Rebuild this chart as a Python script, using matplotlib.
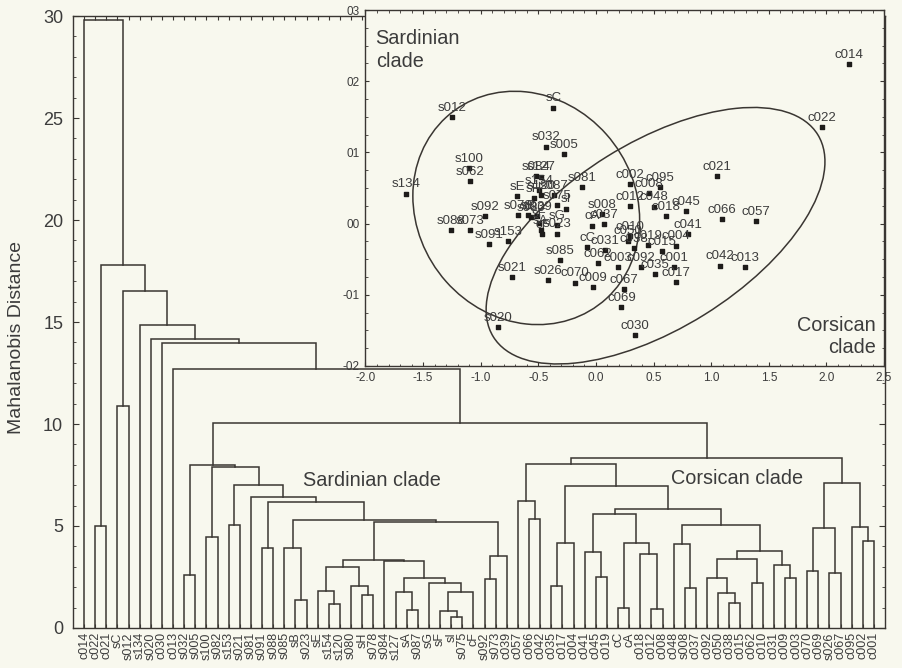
import matplotlib.pyplot as plt
from matplotlib.patches import Ellipse
from matplotlib.transforms import Affine2D
from matplotlib.ticker import MultipleLocator, FixedLocator, FixedFormatter

plt.rcParams['font.family'] = ['Liberation Sans', 'DejaVu Sans']

BG = '#f8f8ee'
INK = '#3a3632'
TXT = '#3c3c3c'

# leaf order of the dendrogram (left to right)
leaf_labels = [
    'c014', 'c022', 'c021', 'sC', 's012', 's134', 's020', 'c030', 'c013',
    's032', 's005', 's100', 's082', 's153', 's021', 's081', 's091', 's088',
    's085', 'sB', 's023', 'sE', 's154', 's120', 's080', 'sH', 's078', 's084',
    's127', 'sA', 's087', 'sG', 'sF', 'sI', 's075', 'cF', 's092', 's073',
    'c039', 'c057', 'c066', 'c042', 'c035', 'c017', 'c004', 'c041', 'c045',
    'c019', 'cC', 'cA', 'c018', 'c012', 'c008', 'c048', 's008', 'c037',
    'c092', 'c050', 'c038', 'c015', 'c062', 'c010', 'c031', 'c009', 'c003',
    'c070', 'c069', 's026', 'c067', 'c095', 'c002', 'c001',
]

# merges: (left, right, distance); ints point back to an earlier merge
merges = [
    ('c022', 'c021', 5.0),     # 0
    ('sC', 's012', 10.88),     # 1
    ('s032', 's005', 2.6),     # 2
    ('s100', 's082', 4.44),    # 3
    ('s153', 's021', 5.05),    # 4
    ('s091', 's088', 3.9),     # 5
    ('sB', 's023', 1.37),      # 6
    ('s085', 6, 3.92),         # 7
    ('s154', 's120', 1.18),    # 8
    ('sE', 8, 1.83),           # 9
    ('sH', 's078', 1.60),      # 10
    ('s080', 10, 2.06),        # 11
    (9, 11, 3.0),              # 12
    ('sA', 's087', 0.88),      # 13
    ('s127', 13, 1.75),        # 14
    ('sI', 's075', 0.52),      # 15
    ('sF', 15, 0.85),          # 16
    (16, 'cF', 1.75),          # 17
    ('sG', 17, 2.22),          # 18
    (14, 18, 2.47),            # 19
    ('s084', 19, 3.28),        # 20
    (12, 20, 3.33),            # 21
    ('s092', 's073', 2.39),    # 22
    (22, 'c039', 3.53),        # 23
    (21, 23, 5.22),            # 24
    (7, 24, 5.28),             # 25
    (5, 25, 6.16),             # 26
    ('s081', 26, 6.44),        # 27
    (4, 27, 7.01),             # 28
    (3, 28, 7.91),             # 29
    (2, 29, 7.99),             # 30  Sardinian clade
    ('c066', 'c042', 5.36),    # 31
    ('c057', 31, 6.21),        # 32
    ('c035', 'c017', 2.07),    # 33
    (33, 'c004', 4.18),        # 34
    ('c045', 'c019', 2.48),    # 35
    ('c041', 35, 3.71),        # 36
    ('cC', 'cA', 0.96),        # 37
    ('c012', 'c008', 0.91),    # 38
    ('c018', 38, 3.63),        # 39
    (37, 39, 4.18),            # 40
    (36, 40, 5.57),            # 41
    ('s008', 'c037', 1.94),    # 42
    ('c048', 42, 4.12),        # 43
    ('c038', 'c015', 1.21),    # 44
    ('c050', 44, 1.70),        # 45
    ('c092', 45, 2.43),        # 46
    ('c062', 'c010', 2.19),    # 47
    (46, 47, 3.38),            # 48
    ('c009', 'c003', 2.43),    # 49
    ('c031', 49, 3.09),        # 50
    (48, 50, 3.77),            # 51
    (43, 51, 5.05),            # 52
    (41, 52, 5.83),            # 53
    (34, 53, 6.98),            # 54
    (32, 54, 8.02),            # 55
    ('c070', 'c069', 2.79),    # 56
    ('s026', 'c067', 2.68),    # 57
    (56, 57, 4.89),            # 58
    ('c002', 'c001', 4.28),    # 59
    ('c095', 59, 4.97),        # 60
    (58, 60, 7.13),            # 61
    (55, 61, 8.35),            # 62  Corsican clade
    (30, 62, 10.03),           # 63
    ('c013', 63, 12.7),        # 64
    ('c030', 64, 13.95),       # 65
    ('s020', 65, 14.17),       # 66
    ('s134', 66, 14.85),       # 67
    (1, 67, 16.5),             # 68
    (0, 68, 17.8),             # 69
    ('c014', 69, 29.8),        # 70
]

# inset: canonical scores
pt_labels = [
    'sC', 's012', 's032', 's005', 's100', 's062', 's134', 's081', 's092',
    's088', 's073', 's091', 's153', 's023', 's085', 's021', 's020', 'sE',
    's084', 's127', 's154', 's120', 'sH', 's087', 's075', 'sI', 's078', 'sB',
    'c039', 's080', 'sF', 'sA', 'cF', 'sG',
    'c014', 'c022', 'c021', 'c066', 'c057', 'c042', 'c013', 'c045', 'c041',
    'c018', 'c048', 'c008', 'c095', 'c002', 'c012', 'c004', 'c015', 'c001',
    'c017', 'c035', 'c092', 'c003', 'c019', 'c010', 'c050', 'c038', 'c062',
    'c031', 'cC', 'cA', 'c037', 's008', 'c009', 'c070', 's026', 'c067',
    'c069', 'c030',
]
pt_x = [
    -0.370, -1.247, -0.435, -0.277, -1.098, -1.092, -1.650, -0.119, -0.962,
    -1.262, -1.089, -0.925, -0.761, -0.335, -0.312, -0.732, -0.847, -0.686,
    -0.518, -0.473, -0.493, -0.478, -0.536, -0.364, -0.340, -0.263, -0.674,
    -0.588, -0.508, -0.565, -0.493, -0.478, -0.465, -0.340,
    2.193, 1.959, 1.053, 1.096, 1.387, 1.076, 1.292, 0.782, 0.796,
    0.606, 0.500, 0.463, 0.558, 0.293, 0.293, 0.696, 0.572, 0.681,
    0.696, 0.515, 0.390, 0.192, 0.451, 0.299, 0.280, 0.330, 0.019,
    0.075, -0.076, -0.033, 0.070, 0.054, -0.027, -0.185, -0.415, 0.241,
    0.221, 0.342,
]
pt_y = [
    0.163, 0.150, 0.108, 0.098, 0.078, 0.060, 0.042, 0.051, 0.010,
    -0.009, -0.009, -0.029, -0.025, -0.014, -0.051, -0.075, -0.145, 0.039,
    0.067, 0.066, 0.047, 0.040, 0.036, 0.040, 0.026, 0.021, 0.012,
    0.012, 0.011, 0.009, 0.001, -0.009, -0.015, -0.002,
    0.224, 0.135, 0.067, 0.006, 0.003, -0.059, -0.061, 0.018, -0.015,
    0.011, 0.024, 0.043, 0.051, 0.055, 0.025, -0.031, -0.039, -0.061,
    -0.082, -0.071, -0.061, -0.061, -0.030, -0.018, -0.024, -0.034, -0.055,
    -0.037, -0.033, -0.003, -0.001, 0.013, -0.089, -0.083, -0.079, -0.092,
    -0.117, -0.157,
]

# clade ellipses: centre and the two half-axis vectors (x, y)
sard_centre = (-0.605, 0.022)
sard_axes = [(0.984, -0.0169), (0.0, -0.163)]
cors_centre = (0.517, -0.017)
cors_axes = [(1.408, 0.1419), (0.423, -0.111)]

inset_yticks = [-0.2, -0.1, 0.0, 0.1, 0.2, 0.3]
inset_ytick_labels = ['-02', '-01', '00', '01', '02', '03']
inset_xticks = [-2.0, -1.5, -1.0, -0.5, 0.0, 0.5, 1.0, 1.5, 2.0, 2.5]


fig = plt.figure(figsize=(9.02, 6.68), dpi=100, facecolor=BG)

# ---- dendrogram ----
ax = fig.add_axes([0.0809, 0.0599, 0.9003, 0.9161], facecolor=BG)
pos = {lab: i for i, lab in enumerate(leaf_labels)}
node_x, node_h = [], []


def where(n):
    if isinstance(n, str):
        return pos[n], 0.0
    return node_x[n], node_h[n]


for a, b, h in merges:
    xa, ha = where(a)
    xb, hb = where(b)
    ax.plot([xa, xa, xb, xb], [ha, h, h, hb], color=INK, lw=1.1,
            solid_joinstyle='miter')
    node_x.append((xa + xb) / 2)
    node_h.append(h)

ax.set_xlim(-1, 72)
ax.set_ylim(0, 30)
ax.set_xticks(range(len(leaf_labels)))
ax.set_xticklabels(leaf_labels, rotation=90, fontsize=9, color=TXT)
ax.yaxis.set_major_locator(MultipleLocator(5))
ax.yaxis.set_minor_locator(MultipleLocator(1))
ax.tick_params(axis='x', direction='in', top=True, length=3, width=0.8,
               pad=3, colors=INK, labelcolor=TXT)
ax.tick_params(axis='y', which='major', direction='in', right=True, length=4,
               width=0.8, pad=7, labelsize=13, colors=INK, labelcolor=TXT)
ax.tick_params(axis='y', which='minor', direction='in', right=True, length=2,
               width=0.6, colors=INK)
for s in ax.spines.values():
    s.set_color(INK)
    s.set_linewidth(1.0)
ax.set_ylabel('Mahalanobis Distance', fontsize=14, color=TXT)
ax.yaxis.set_label_coords(-0.059, 0.474)

ax.text(19.7, 7.25, 'Sardinian clade', fontsize=14.3, color=TXT,
        ha='left', va='center')
ax.text(52.8, 7.35, 'Corsican clade', fontsize=14.3, color=TXT,
        ha='left', va='center')

# ---- inset scatter ----
ins = fig.add_axes([0.4052, 0.4521, 0.5749, 0.5329], facecolor=BG)
ins.set_xlim(-2.0, 2.5)
ins.set_ylim(-0.2, 0.3)

for centre, (va_, vb_) in [(sard_centre, sard_axes), (cors_centre, cors_axes)]:
    tr = Affine2D.from_values(va_[0], va_[1], vb_[0], vb_[1],
                              centre[0], centre[1])
    ins.add_patch(Ellipse((0, 0), 2, 2, transform=tr + ins.transData,
                          fill=False, edgecolor=INK, lw=1.1))

ins.scatter(pt_x, pt_y, marker='s', s=9, color='#1e1c1a', zorder=3)
for lab, x, y in zip(pt_labels, pt_x, pt_y):
    ins.annotate(lab, (x, y), xytext=(0, 4.5), textcoords='offset points',
                 ha='center', va='baseline', fontsize=9.5, color=TXT)

ins.xaxis.set_major_locator(FixedLocator(inset_xticks))
ins.set_xticklabels([f'{v:.1f}' for v in inset_xticks])
ins.xaxis.set_minor_locator(MultipleLocator(0.1))
ins.yaxis.set_major_locator(FixedLocator(inset_yticks))
ins.yaxis.set_major_formatter(FixedFormatter(inset_ytick_labels))
ins.yaxis.set_minor_locator(MultipleLocator(0.025))
ins.tick_params(which='major', direction='in', top=True, right=True,
                length=3, width=0.8, labelsize=8.5, colors=INK,
                labelcolor=TXT, pad=4)
ins.tick_params(which='minor', direction='in', top=True, right=True,
                length=1.8, width=0.6, colors=INK)
for s in ins.spines.values():
    s.set_color(INK)
    s.set_linewidth(1.0)

ins.text(-1.912, 0.273, 'Sardinian\nclade', fontsize=14.3, color=TXT,
         ha='left', va='top', linespacing=1.22)
ins.text(2.426, -0.159, 'Corsican\nclade', fontsize=14.3, color=TXT,
         ha='right', va='center', multialignment='right', linespacing=1.22)

fig.savefig('out.png', dpi=100, facecolor=BG)
